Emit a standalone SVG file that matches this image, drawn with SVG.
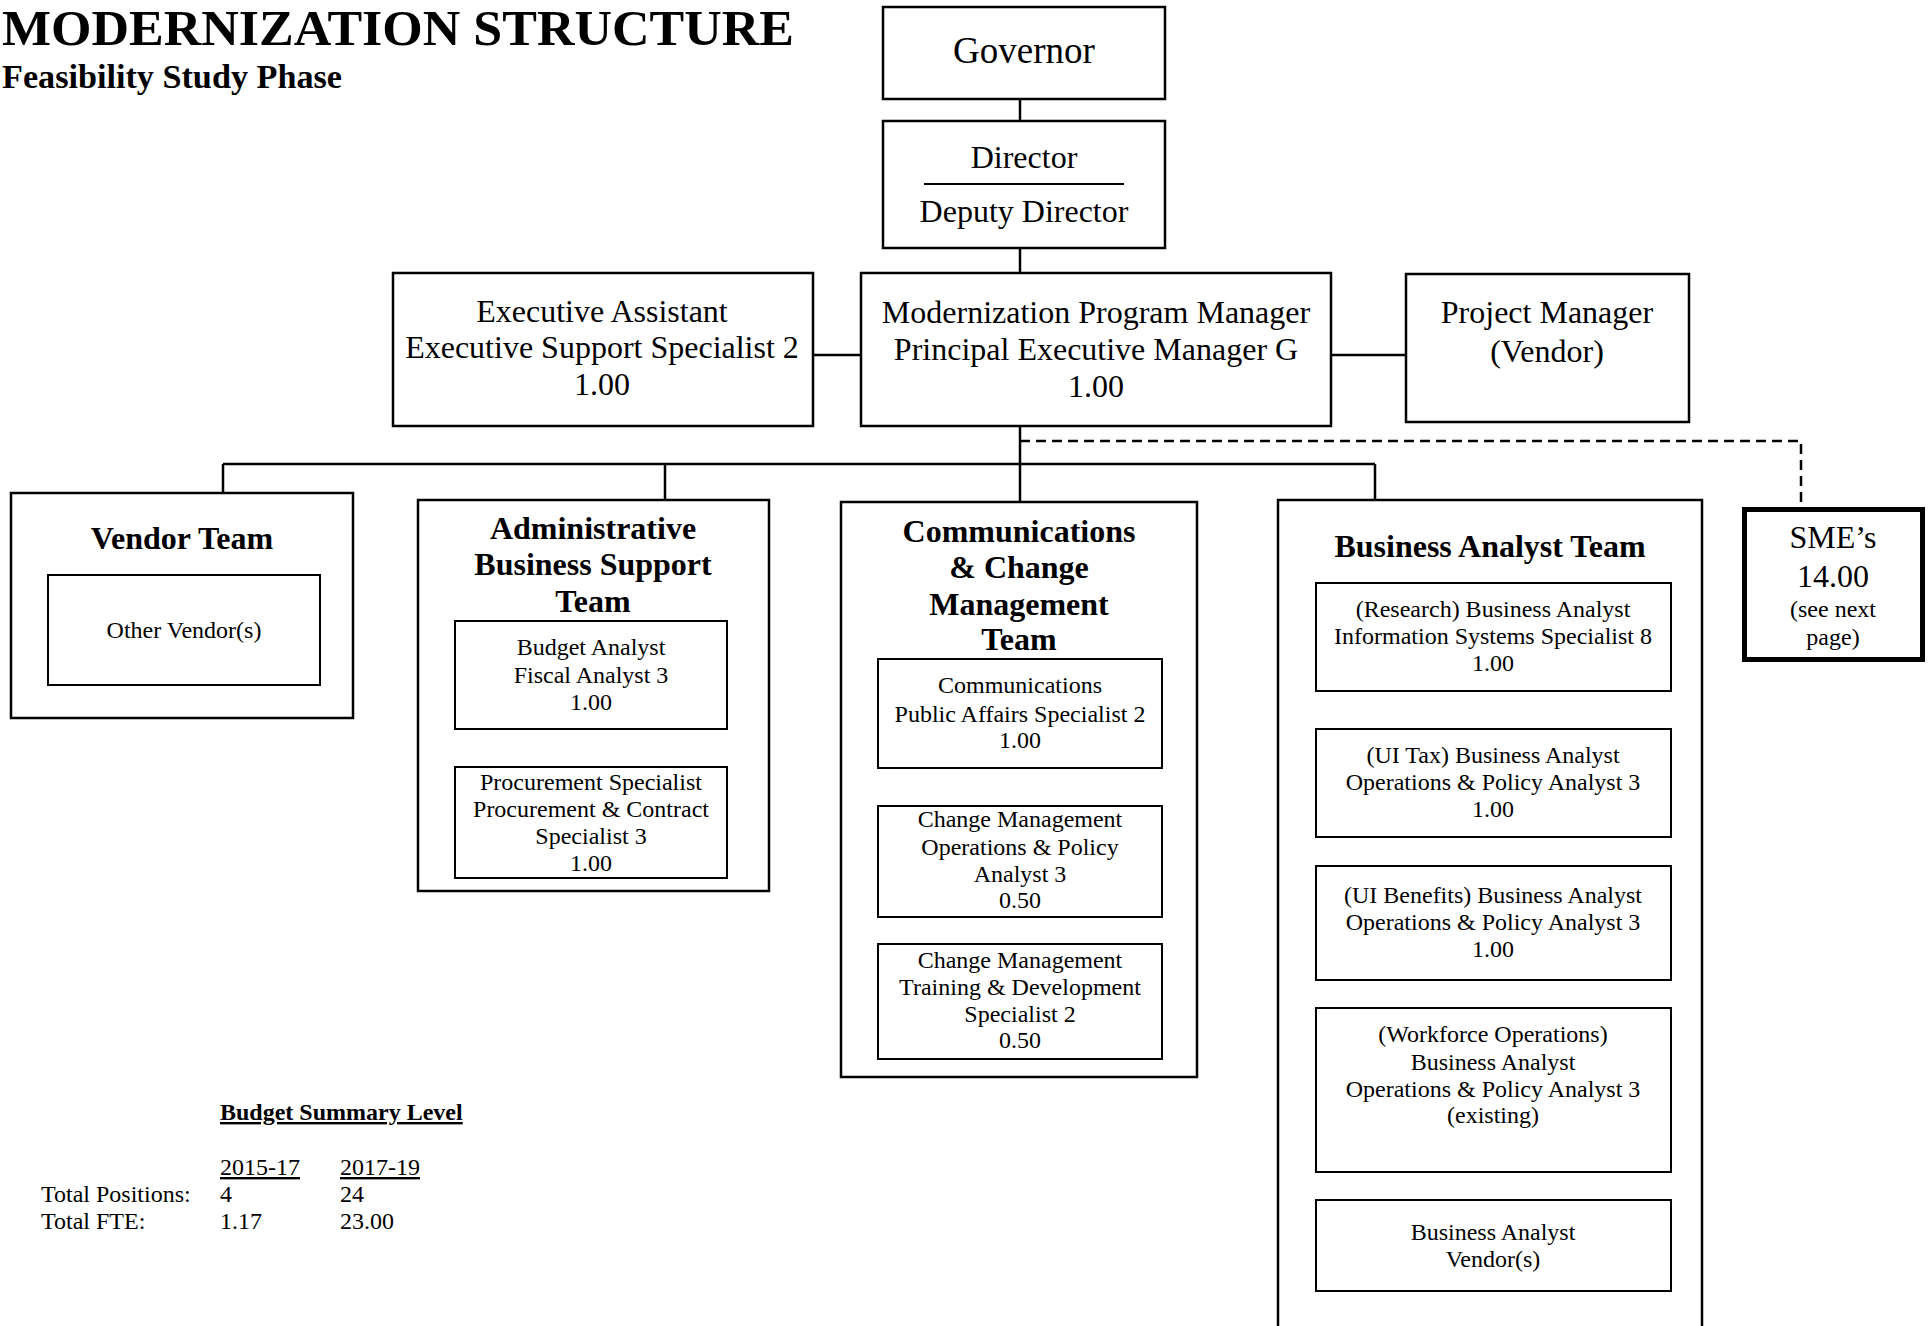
<svg xmlns="http://www.w3.org/2000/svg" width="1930" height="1326" viewBox="0 0 1930 1326">
<style>
text{font-family:"Liberation Serif","Times New Roman",serif;fill:#000;text-anchor:middle}
.t32{font-size:32px}
.t24{font-size:24px}
.b32{font-size:32px;font-weight:bold}
.box{fill:#fff;stroke:#000;stroke-width:2.5}
.inner{fill:#fff;stroke:#000;stroke-width:2}
.conn{fill:none;stroke:#000;stroke-width:2.5}
.dash{fill:none;stroke:#000;stroke-width:2.5;stroke-dasharray:10 6}
.left{text-anchor:start}
</style>
<rect width="1930" height="1326" fill="#fff"/>
<g id="title">
<text class="left" x="2" y="45" font-size="50" font-weight="bold" textLength="792" lengthAdjust="spacingAndGlyphs">MODERNIZATION STRUCTURE</text>
<text class="left" x="2" y="88" font-size="34" font-weight="bold" textLength="340" lengthAdjust="spacingAndGlyphs">Feasibility Study Phase</text>
</g>
<g id="connectors">
<path class="conn" d="M1020 99V121M1020 248V273M813 355H861M1331 355H1406M1020 426V502M223 464H1375M223 464V493M665 464V500M1375 464V500"/>
<path class="dash" d="M1020 441H1801V508"/>
</g>
<g id="governor">
<rect class="box" x="883" y="7" width="282" height="92"/>
<text x="1024" y="63" font-size="37">Governor</text>
</g>
<g id="director">
<rect class="box" x="883" y="121" width="282" height="127"/>
<text class="t32" x="1024" y="168">Director</text>
<line x1="924" y1="184" x2="1124" y2="184" stroke="#000" stroke-width="2"/>
<text class="t32" x="1024" y="222">Deputy Director</text>
</g>
<g id="exec-assistant">
<rect class="box" x="393" y="273" width="420" height="153"/>
<text class="t32" x="602" y="322">Executive Assistant</text>
<text class="t32" x="602" y="358">Executive Support Specialist 2</text>
<text class="t32" x="602" y="395">1.00</text>
</g>
<g id="program-manager">
<rect class="box" x="861" y="273" width="470" height="153"/>
<text class="t32" x="1096" y="323">Modernization Program Manager</text>
<text class="t32" x="1096" y="360">Principal Executive Manager G</text>
<text class="t32" x="1096" y="397">1.00</text>
</g>
<g id="project-manager">
<rect class="box" x="1406" y="274" width="283" height="148"/>
<text class="t32" x="1547" y="323">Project Manager</text>
<text class="t32" x="1547" y="362">(Vendor)</text>
</g>
<g id="vendor-team">
<rect class="box" x="11" y="493" width="342" height="225"/>
<text class="b32" x="182" y="549">Vendor Team</text>
<rect class="inner" x="48" y="575" width="272" height="110"/>
<text class="t24" x="184" y="638">Other Vendor(s)</text>
</g>
<g id="admin-team">
<rect class="box" x="418" y="500" width="351" height="391"/>
<text class="b32" x="593" y="539">Administrative</text>
<text class="b32" x="593" y="575">Business Support</text>
<text class="b32" x="593" y="612">Team</text>
<rect class="inner" x="455" y="621" width="272" height="108"/>
<text class="t24" x="591" y="655">Budget Analyst</text>
<text class="t24" x="591" y="683">Fiscal Analyst 3</text>
<text class="t24" x="591" y="710">1.00</text>
<rect class="inner" x="455" y="767" width="272" height="111"/>
<text class="t24" x="591" y="790">Procurement Specialist</text>
<text class="t24" x="591" y="817">Procurement &amp; Contract</text>
<text class="t24" x="591" y="844">Specialist 3</text>
<text class="t24" x="591" y="871">1.00</text>
</g>
<g id="comm-team">
<rect class="box" x="841" y="502" width="356" height="575"/>
<text class="b32" x="1019" y="542">Communications</text>
<text class="b32" x="1019" y="578">&amp; Change</text>
<text class="b32" x="1019" y="615">Management</text>
<text class="b32" x="1019" y="650">Team</text>
<rect class="inner" x="878" y="659" width="284" height="109"/>
<text class="t24" x="1020" y="693">Communications</text>
<text class="t24" x="1020" y="722">Public Affairs Specialist 2</text>
<text class="t24" x="1020" y="748">1.00</text>
<rect class="inner" x="878" y="806" width="284" height="111"/>
<text class="t24" x="1020" y="827">Change Management</text>
<text class="t24" x="1020" y="855">Operations &amp; Policy</text>
<text class="t24" x="1020" y="882">Analyst 3</text>
<text class="t24" x="1020" y="908">0.50</text>
<rect class="inner" x="878" y="944" width="284" height="115"/>
<text class="t24" x="1020" y="968">Change Management</text>
<text class="t24" x="1020" y="995">Training &amp; Development</text>
<text class="t24" x="1020" y="1022">Specialist 2</text>
<text class="t24" x="1020" y="1048">0.50</text>
</g>
<g id="ba-team">
<rect class="box" x="1278" y="500" width="424" height="840"/>
<text class="b32" x="1490" y="557">Business Analyst Team</text>
<rect class="inner" x="1316" y="583" width="355" height="108"/>
<text class="t24" x="1493" y="617">(Research) Business Analyst</text>
<text class="t24" x="1493" y="644">Information Systems Specialist 8</text>
<text class="t24" x="1493" y="671">1.00</text>
<rect class="inner" x="1316" y="729" width="355" height="108"/>
<text class="t24" x="1493" y="763">(UI Tax) Business Analyst</text>
<text class="t24" x="1493" y="790">Operations &amp; Policy Analyst 3</text>
<text class="t24" x="1493" y="817">1.00</text>
<rect class="inner" x="1316" y="866" width="355" height="114"/>
<text class="t24" x="1493" y="903">(UI Benefits) Business Analyst</text>
<text class="t24" x="1493" y="930">Operations &amp; Policy Analyst 3</text>
<text class="t24" x="1493" y="957">1.00</text>
<rect class="inner" x="1316" y="1008" width="355" height="164"/>
<text class="t24" x="1493" y="1042">(Workforce Operations)</text>
<text class="t24" x="1493" y="1070">Business Analyst</text>
<text class="t24" x="1493" y="1097">Operations &amp; Policy Analyst 3</text>
<text class="t24" x="1493" y="1123">(existing)</text>
<rect class="inner" x="1316" y="1200" width="355" height="91"/>
<text class="t24" x="1493" y="1240">Business Analyst</text>
<text class="t24" x="1493" y="1267">Vendor(s)</text>
</g>
<g id="sme">
<rect x="1744.5" y="509.5" width="178" height="150" fill="#fff" stroke="#000" stroke-width="5"/>
<text class="t32" x="1833" y="548">SME’s</text>
<text class="t32" x="1833" y="587">14.00</text>
<text class="t24" x="1833" y="617">(see next</text>
<text class="t24" x="1833" y="645">page)</text>
</g>
<g id="budget-summary">
<text class="left" x="220" y="1120" font-size="24" font-weight="bold" text-decoration="underline">Budget Summary Level</text>
<text class="left t24" x="220" y="1175" text-decoration="underline">2015-17</text>
<text class="left t24" x="340" y="1175" text-decoration="underline">2017-19</text>
<text class="left t24" x="41" y="1202">Total Positions:</text>
<text class="left t24" x="220" y="1202">4</text>
<text class="left t24" x="340" y="1202">24</text>
<text class="left t24" x="41" y="1229">Total FTE:</text>
<text class="left t24" x="220" y="1229">1.17</text>
<text class="left t24" x="340" y="1229">23.00</text>
</g>
</svg>
